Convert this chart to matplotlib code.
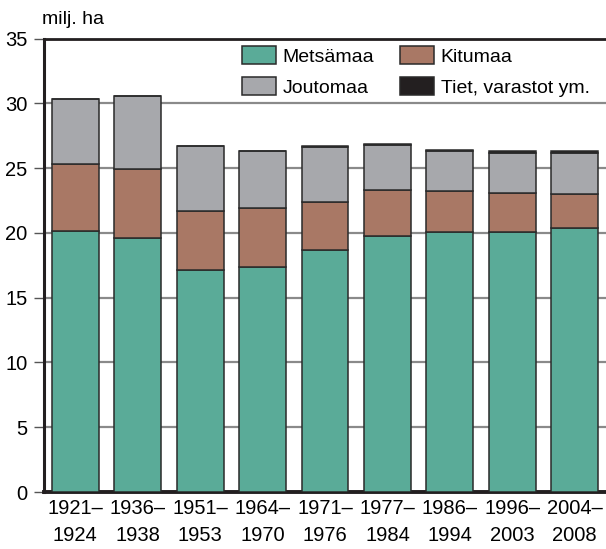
import matplotlib
matplotlib.use('Agg')
import matplotlib.pyplot as plt
import numpy as np

plt.rcParams['font.family'] = ['Liberation Sans', 'DejaVu Sans']

# Periods and land use (milj. ha)
periods = ['1921–\n1924', '1936–\n1938', '1951–\n1953', '1964–\n1970', '1971–\n1976',
           '1977–\n1984', '1986–\n1994', '1996–\n2003', '2004–\n2008']
metsamaa = [20.15, 19.6, 17.1, 17.4, 18.7, 19.75, 20.1, 20.1, 20.4]
kitumaa = [5.15, 5.3, 4.6, 4.5, 3.7, 3.55, 3.1, 3.0, 2.6]
joutomaa = [5.05, 5.7, 5.0, 4.45, 4.2, 3.45, 3.1, 3.05, 3.15]
tiet = [0.0, 0.0, 0.0, 0.0, 0.08, 0.1, 0.12, 0.15, 0.2]

series = [('Metsämaa', metsamaa, '#5aab98'),
          ('Kitumaa', kitumaa, '#a97865'),
          ('Joutomaa', joutomaa, '#a7a8ac'),
          ('Tiet, varastot ym.', tiet, '#231f20')]

fs = 14

fig = plt.figure(figsize=(6.06, 5.49), dpi=100)
ax = fig.add_axes([44 / 606, 1 - 492 / 549, 562 / 606, (492 - 38.5) / 549])

x = np.arange(len(periods))
bottom = np.zeros(len(periods))
handles = []
for name, vals, col in series:
    vals = np.array(vals)
    b = ax.bar(x, vals, 0.75, bottom=bottom, color=col, edgecolor='#2a2a2a',
               linewidth=1.1, zorder=3, label=name)
    handles.append(b)
    bottom += vals

ax.set_xlim(-0.5, 8.5)
ax.set_ylim(0, 35)
ax.set_yticks(range(0, 36, 5))
ax.set_xticks(x)
ax.set_xticklabels(periods, fontsize=fs + 0.5, linespacing=1.55)
ax.tick_params(axis='x', length=0, pad=5)
ax.tick_params(axis='y', labelsize=fs + 0.5, length=7, width=1, color='#555555', pad=5)

ax.yaxis.grid(True, color='#8a8a8a', linewidth=1.6, zorder=0)
ax.set_axisbelow(True)

for s in ['left', 'bottom', 'top']:
    ax.spines[s].set_color('#231f20')
ax.spines['left'].set_linewidth(2.2)
ax.spines['bottom'].set_linewidth(2.8)
ax.spines['top'].set_linewidth(2.0)
ax.spines['right'].set_visible(False)

fig.text(42 / 606, 1 - 20 / 549, 'milj. ha', fontsize=fs, va='center', ha='left')

# legend fills column by column: put row 1 = Metsämaa, Kitumaa
order = [0, 2, 1, 3]
leg = fig.legend([handles[i] for i in order], [series[i][0] for i in order], ncol=2,
                 loc='upper left', bbox_to_anchor=(242 / 606, 1 - 46 / 549),
                 frameon=False, fontsize=fs,
                 handlelength=1.75, handleheight=1.05, handletextpad=0.35,
                 columnspacing=1.3, labelspacing=0.6, borderpad=0, borderaxespad=0)

fig.savefig('out.png', dpi=100)
